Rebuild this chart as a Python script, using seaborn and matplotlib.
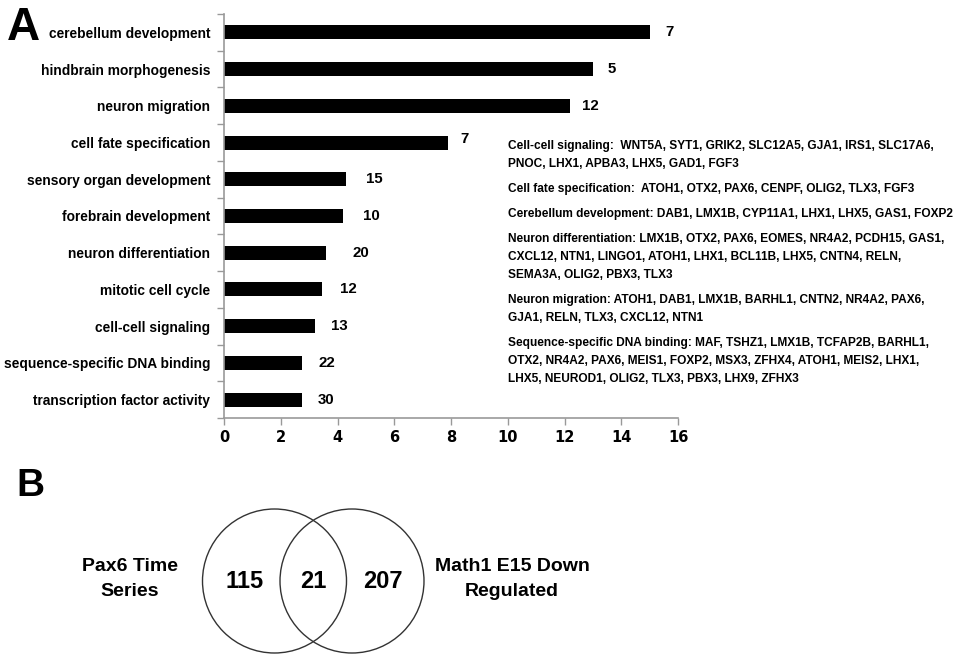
import matplotlib
matplotlib.use("Agg")
import matplotlib.pyplot as plt
from matplotlib.patches import Circle
from matplotlib import font_manager
import pandas as pd
import seaborn as sns

# GO term enrichment (panel A)
categories = [
    "cerebellum development",
    "hindbrain morphogenesis",
    "neuron migration",
    "cell fate specification",
    "sensory organ development",
    "forebrain development",
    "neuron differentiation",
    "mitotic cell cycle",
    "cell-cell signaling",
    "sequence-specific DNA binding",
    "transcription factor activity",
]
fold_enrichment = [15.0, 13.0, 12.2, 7.9, 4.3, 4.2, 3.6, 3.45, 3.2, 2.75, 2.75]
gene_counts = [7, 5, 12, 7, 15, 10, 20, 12, 13, 22, 30]
x_ticks = [0, 2, 4, 6, 8, 10, 12, 14, 16]

# genes behind selected terms, one list of lines per term
gene_notes = [
    ["Cell-cell signaling:  WNT5A, SYT1, GRIK2, SLC12A5, GJA1, IRS1, SLC17A6,",
     "PNOC, LHX1, APBA3, LHX5, GAD1, FGF3"],
    ["Cell fate specification:  ATOH1, OTX2, PAX6, CENPF, OLIG2, TLX3, FGF3"],
    ["Cerebellum development: DAB1, LMX1B, CYP11A1, LHX1, LHX5, GAS1, FOXP2"],
    ["Neuron differentiation: LMX1B, OTX2, PAX6, EOMES, NR4A2, PCDH15, GAS1,",
     "CXCL12, NTN1, LINGO1, ATOH1, LHX1, BCL11B, LHX5, CNTN4, RELN,",
     "SEMA3A, OLIG2, PBX3, TLX3"],
    ["Neuron migration: ATOH1, DAB1, LMX1B, BARHL1, CNTN2, NR4A2, PAX6,",
     "GJA1, RELN, TLX3, CXCL12, NTN1"],
    ["Sequence-specific DNA binding: MAF, TSHZ1, LMX1B, TCFAP2B, BARHL1,",
     "OTX2, NR4A2, PAX6, MEIS1, FOXP2, MSX3, ZFHX4, ATOH1, MEIS2, LHX1,",
     "LHX5, NEUROD1, OLIG2, TLX3, PBX3, LHX9, ZFHX3"],
]

# overlap of the two gene sets (panel B)
set_labels = ["Pax6 Time\nSeries", "Math1 E15 Down\nRegulated"]
region_counts = [115, 21, 207]

# horizontal nudges (px) for the count labels next to each bar
count_offsets_px = [16, 15, 12, 12, 20, 20, 26, 18, 16, 16, 16]
count_lift_px = [0, 0, 0, 4, 0, 0, 0, 0, 0, 0, 0]

sns.set_theme(style="white")

available = {f.name for f in font_manager.fontManager.ttflist}
narrow = "Liberation Sans Narrow" if "Liberation Sans Narrow" in available else "Liberation Sans"
plt.rcParams["font.family"] = [narrow, "DejaVu Sans"]

W, H, DPI = 972, 654, 100
fig = plt.figure(figsize=(W / DPI, H / DPI), dpi=DPI)
fig.patch.set_facecolor("white")


def fx(px):
    return px / W


def fy(py):
    return 1 - py / H


# ---- panel A: bar chart ----
ax_l, ax_r, ax_t, ax_b = 224, 678, 14, 418
ax = fig.add_axes([fx(ax_l), fy(ax_b), fx(ax_r - ax_l), (ax_b - ax_t) / H])

df = pd.DataFrame({"term": categories, "enrichment": fold_enrichment, "genes": gene_counts})
sns.barplot(data=df, x="enrichment", y="term", orient="h", color="black",
            saturation=1, width=0.38, edgecolor="none", ax=ax)

ax.set_xlim(0, 16)
ax.set_ylim(len(categories) - 0.5, -0.5)
ax.set_xlabel("")
ax.set_ylabel("")
ax.set_xticks(x_ticks)
ax.set_xticklabels([str(t) for t in x_ticks], family="DejaVu Sans",
                   fontweight="bold", fontsize=10.5, color="black")
ax.set_yticks(range(len(categories)))
ax.set_yticklabels(categories, fontsize=9.9, fontweight="bold", color="black")
ax.set_yticks([i - 0.5 for i in range(len(categories) + 1)], minor=True)
ax.tick_params(axis="y", which="major", length=0, pad=10)
ax.tick_params(axis="y", which="minor", length=5, width=1, color="#999999", left=True)
ax.tick_params(axis="x", which="major", length=5, width=1, color="#999999",
               bottom=True, direction="out", pad=4)
for side in ["top", "right"]:
    ax.spines[side].set_visible(False)
for side in ["left", "bottom"]:
    ax.spines[side].set_color("#999999")
    ax.spines[side].set_linewidth(1.2)
ax.grid(False)

for i, (val, n) in enumerate(zip(fold_enrichment, gene_counts)):
    ax.annotate(str(n), xy=(val, i), xytext=(count_offsets_px[i] * 0.72, count_lift_px[i] * 0.72),
                textcoords="offset points", ha="left", va="center",
                fontsize=10.8, fontweight="bold", color="black")

# ---- overlay for free text and the Venn diagram ----
ov = fig.add_axes([0, 0, 1, 1], zorder=5)
ov.set_xlim(0, W)
ov.set_ylim(H, 0)
ov.axis("off")
ov.patch.set_alpha(0)

ov.text(7, 28, "A", fontsize=33, fontweight="bold", family="Liberation Sans",
        ha="left", va="center", color="black")
ov.text(16, 486, "B", fontsize=28, fontweight="bold", family="Liberation Sans",
        ha="left", va="center", color="black")

# gene lists
y = 146
line_h, para_gap = 18, 25
for block in gene_notes:
    for j, line in enumerate(block):
        ov.text(508, y, line, fontsize=8.6, fontweight="bold", ha="left",
                va="center", color="black")
        if j < len(block) - 1:
            y += line_h
    y += para_gap

# Venn diagram
cy, r = 581, 72
centers = [274.5, 352]
for cx in centers:
    ov.add_patch(Circle((cx, cy), r, fill=False, edgecolor="#333333", linewidth=1.0))

region_x = [245, 313, 383]
for x, n in zip(region_x, region_counts):
    ov.text(x, cy, str(n), fontsize=17, fontweight="bold", ha="center",
            va="center", color="black")

ov.text(130, 579, set_labels[0], fontsize=14, fontweight="bold", ha="center",
        va="center", color="black", linespacing=1.55)
ov.text(512, 579, set_labels[1], fontsize=14, fontweight="bold", ha="center",
        va="center", color="black", linespacing=1.55)

fig.savefig("out.png", dpi=DPI, facecolor="white")
